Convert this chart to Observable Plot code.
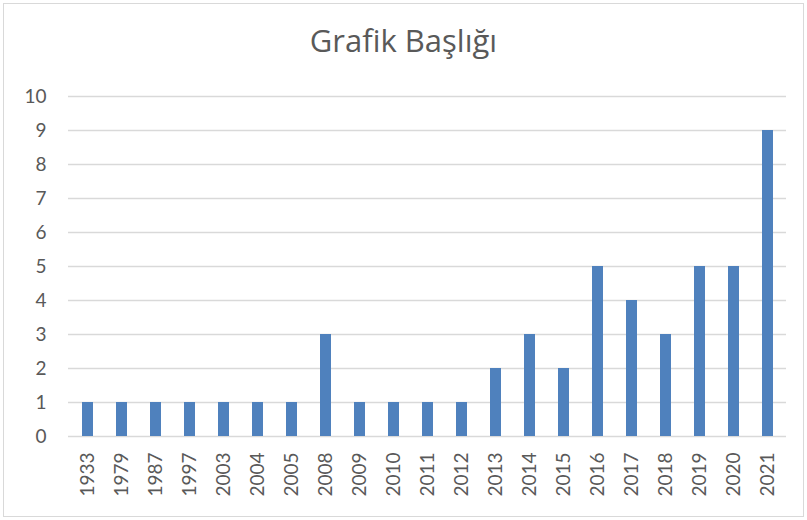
<!DOCTYPE html>
<html><head><meta charset="utf-8">
<script src="https://cdn.jsdelivr.net/npm/d3@7"></script>
<script src="https://cdn.jsdelivr.net/npm/@observablehq/plot@0.6"></script>
<style>
body{margin:0;background:#fff;}
#wrap{position:relative;width:807px;height:520px;font-family:Lato,"Open Sans",sans-serif;}
#frame{position:absolute;left:3px;top:3px;width:801px;height:514px;border:1px solid #d9d9d9;box-sizing:border-box;pointer-events:none;}
#title{position:absolute;left:0;top:21px;width:807px;text-align:center;font-family:"Open Sans",sans-serif;font-size:31px;line-height:38px;color:#595959;}
#chart{position:absolute;left:0;top:74px;}
</style></head><body>
<div id="wrap"><div id="frame"></div><div id="title">Grafik Başlığı</div><div id="chart"></div></div>
<script>
const categories = ["1933","1979","1987","1997","2003","2004","2005","2008","2009","2010","2011","2012","2013","2014","2015","2016","2017","2018","2019","2020","2021"];
const values = [1,1,1,1,1,1,1,3,1,1,1,1,2,3,2,5,4,3,5,5,9];
const yTicks = [0,1,2,3,4,5,6,7,8,9,10];
const data = categories.map((c,i)=>({year:c,value:values[i]}));
const chart = Plot.plot({
  width:807, height:446,
  marginTop:22, marginBottom:84, marginLeft:68, marginRight:21,
  style:{fontFamily:"Lato, 'Open Sans', sans-serif", color:"#595959", background:"transparent"},
  x:{domain:categories, paddingInner:0.68, paddingOuter:0.34, label:null},
  y:{domain:[0,10], label:null},
  marks:[
    Plot.gridY(yTicks,{stroke:"#d9d9d9", strokeOpacity:1, strokeWidth:1.5}),
    Plot.barY(data,{x:"year", y:"value", fill:"#4f81bd"}),
    Plot.axisY(yTicks,{tickSize:0, tickPadding:22, fontSize:19, label:null, fill:"#595959"}),
    Plot.axisX({tickSize:0, tickPadding:16, tickRotate:-90, fontSize:19, label:null, fill:"#595959"})
  ]
});
document.getElementById("chart").appendChild(chart);
</script>
</body></html>
